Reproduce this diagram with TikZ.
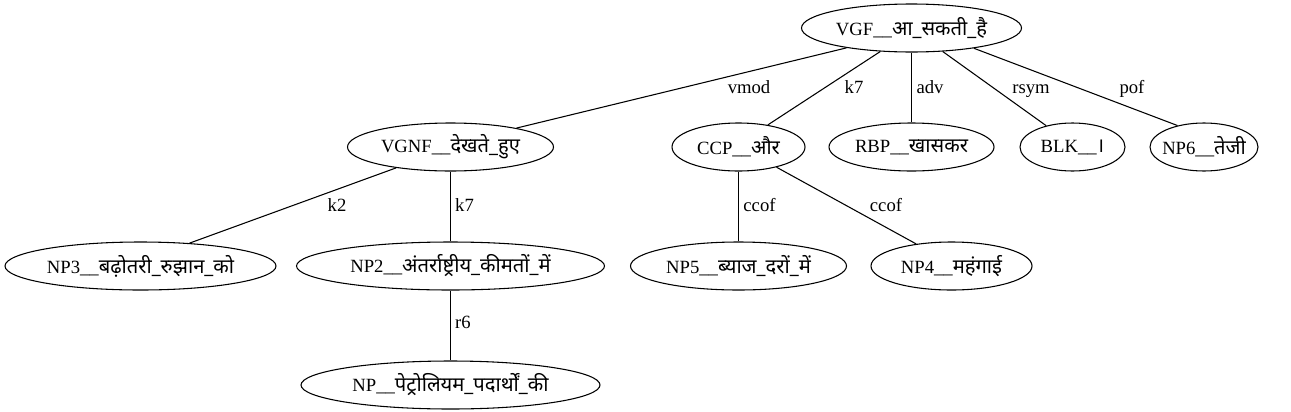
\documentclass[tikz,border=0pt]{standalone}
\usepackage{fontspec}
\setmainfont{Liberation Serif}
\newfontfamily\devfont[Script=Devanagari,Scale=1.08]{Noto Sans}
\usetikzlibrary{shapes.geometric}
\newcommand{\dv}[1]{{\devfont #1}}
\begin{document}
\begin{tikzpicture}[x=0.75pt,y=-0.75pt,font=\fontsize{14}{17}\selectfont,
  nd/.style={draw, ellipse, inner sep=0pt, minimum height=36pt, line width=0.8pt},
  lbl/.style={anchor=base, inner sep=0pt},
  edge/.style={line width=0.8pt}]
\useasboundingbox (0,0) rectangle (1291,411);
% rank 1
\node[nd, minimum width=165pt] (vgf) at (911.5,28) {\makebox[0pt]{VGF\_\_\dv{आ\_सकती\_है}}};
% rank 2
\node[nd, minimum width=154.5pt] (vgnf) at (450.5,147) {\makebox[0pt]{VGNF\_\_\dv{देखते\_हुए}}};
\node[nd, minimum width=99.75pt] (ccp) at (738.5,147) {\makebox[0pt]{CCP\_\_\dv{और}}};
\node[nd, minimum width=123.75pt] (rbp) at (911.5,147) {\makebox[0pt]{RBP\_\_\dv{खासकर}}};
\node[nd, minimum width=78.75pt] (blk) at (1072.5,147) {\makebox[0pt]{BLK\_\_\dv{।}}};
\node[nd, minimum width=81pt] (np6) at (1204,147) {\makebox[0pt]{NP6\_\_\dv{तेजी}}};
% rank 3
\node[nd, minimum width=203.25pt] (np3) at (140.5,266) {\makebox[0pt]{NP3\_\_\dv{बढ़ोतरी\_रुझान\_को}}};
\node[nd, minimum width=231pt] (np2) at (450.5,266) {\makebox[0pt]{NP2\_\_\dv{अंतर्राष्ट्रीय\_कीमतों\_में}}};
\node[nd, minimum width=162pt] (np5) at (738.5,266) {\makebox[0pt]{NP5\_\_\dv{ब्याज\_दरों\_में}}};
\node[nd, minimum width=120.75pt] (np4) at (951.5,266) {\makebox[0pt]{NP4\_\_\dv{महंगाई}}};
% rank 4
\node[nd, minimum width=224.25pt] (np) at (450.5,385) {\makebox[0pt]{NP\_\_\dv{पेट्रोलियम\_पदार्थों\_की}}};
% edges
\draw[edge] (vgf.197) -- (vgnf.16);
\draw[edge] (vgf.217) -- (ccp.37);
\draw[edge] (vgf.270) -- (rbp.90);
\draw[edge] (vgf.323) -- (blk.141);
\draw[edge] (vgf.342) -- (np6.141);
\draw[edge] (vgnf.201) -- (np3.25);
\draw[edge] (vgnf.270) -- (np2.90);
\draw[edge] (ccp.270) -- (np5.90);
\draw[edge] (ccp.332) -- (np4.148);
\draw[edge] (np2.270) -- (np.90);
% edge labels
\node[lbl] (l1) at (749,93) {vmod};
\node[lbl] (l2) at (854,93) {k7};
\node[lbl] (l3) at (930,93) {adv};
\node[lbl] (l4) at (1031,93) {rsym};
\node[lbl] (l5) at (1132,93) {pof};
\node[lbl] (l6) at (337,211) {k2};
\node[lbl] (l7) at (464.5,211) {k7};
\node[lbl] (l8) at (759.5,211) {ccof};
\node[lbl] (l9) at (886,211) {ccof};
\node[lbl] (l10) at (463,328) {r6};
\end{tikzpicture}
\end{document}
